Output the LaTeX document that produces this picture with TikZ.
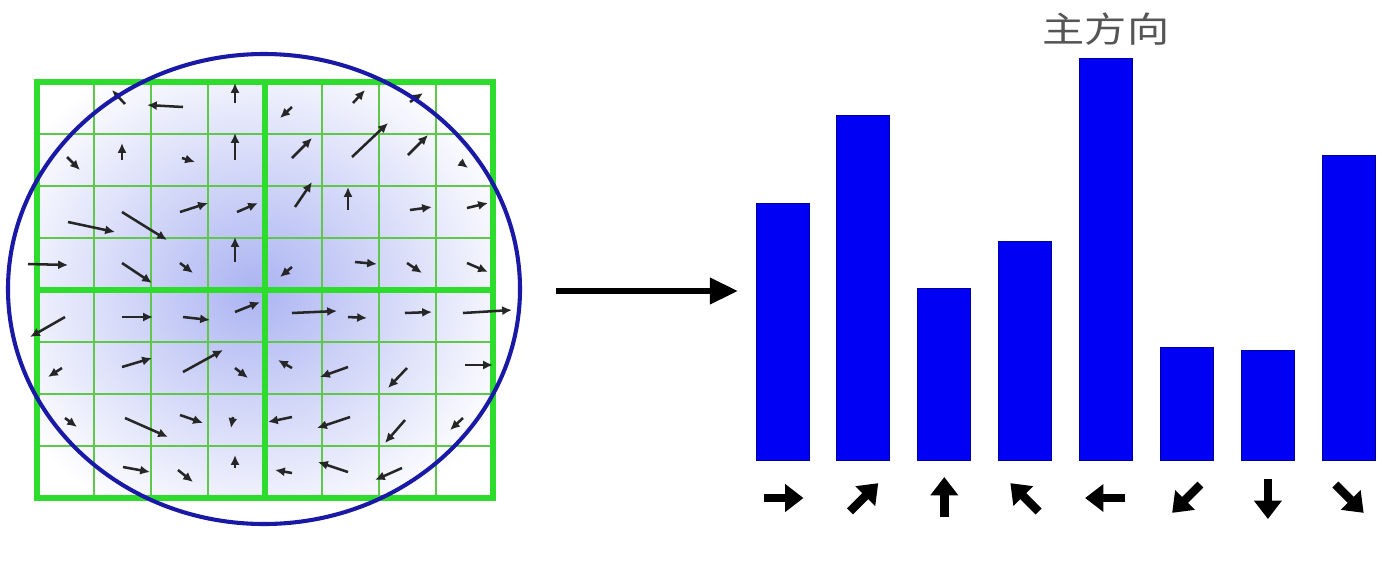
\documentclass[tikz,border=0pt]{standalone}
\usepackage{fontspec}
\newfontfamily\cjk{Noto Sans CJK SC}
\usetikzlibrary{arrows.meta, calc}

\definecolor{gridgreen}{RGB}{45,220,45}
\definecolor{thingreen}{RGB}{95,200,75}
\definecolor{ringblue}{RGB}{25,25,165}
\definecolor{barblue}{RGB}{0,0,245}
\definecolor{blobblue}{RGB}{172,180,242}
\definecolor{titlegray}{RGB}{85,85,85}

\begin{document}
\begin{tikzpicture}[x={(0.025cm,0)}, y={(0,-0.025cm)}]
        \tikzstyle{gradarrow}=[line width=1.8pt, black!85, -{Latex[length=7pt, width=6.5pt]}]
        \tikzstyle{dirarrow}=[line width=6pt, black, -{Triangle[length=13pt, width=19pt]}]
        \tikzstyle{thinline}=[line width=1.3pt, thingreen]
        \tikzstyle{thickline}=[line width=3.6pt, gridgreen]
        \useasboundingbox (0,0) rectangle (1394,562);

        % soft blue blob under the grid
        \begin{scope}
          \clip (37,82) rectangle (493,498);
          \shade[inner color=blobblue, outer color=white] (255,290) ellipse [x radius=275, y radius=255];
        \end{scope}

        % thin grid lines, 8 x 8 cells
        \foreach \i in {1,...,7}
        {
          \draw[thinline] (37+57*\i, 82) -- (37+57*\i, 498);
          \draw[thinline] (37, 82+52*\i) -- (493, 82+52*\i);
        };

        % thick lines round the four quarters
        \draw[thickline] (37,82) rectangle (493,498);
        \draw[thickline] (265,82) -- (265,498);
        \draw[thickline] (37,290) -- (493,290);

        % gradient arrows in the cells
        \foreach \xa/\ya/\xb/\yb in {
          125/104/112/90, 183/107/147/105, 235/103/235/83,
          67/157/80/170, 122/160/122/143, 182/158/195/162, 235/160/235/133,
          68/222/115/232, 122/212/167/240, 180/212/208/203, 237/212/258/203,
          28/264/68/265, 122/263/152/283, 180/263/193/273, 235/262/235/237,
          292/107/280/118, 353/103/365/90, 410/102/423/93,
          292/158/312/138, 352/157/388/123, 408/155/428/135, 460/162/468/168,
          295/207/312/182, 348/210/348/187, 410/210/432/207, 467/208/488/203,
          292/267/280/277, 355/262/377/264, 407/263/422/273, 467/263/488/272,
          65/317/30/337, 122/317/153/317, 183/317/210/320, 235/312/260/302,
          292/313/337/311, 348/317/367/318, 405/313/432/312, 463/313/512/310,
          62/368/48/377, 122/367/152/358, 183/372/223/350, 235/368/248/378,
          292/368/278/360, 348/367/320/377, 407/368/388/388, 465/365/493/365,
          65/418/77/427, 125/418/168/437, 180/415/203/423, 233/417/231/428,
          292/417/268/422, 350/417/317/428, 405/420/385/443, 463/418/450/430,
          123/467/150/472, 178/470/193/482, 235/468/235/455,
          292/473/275/470, 348/472/318/462, 402/468/375/480}
        {
          \draw[gradarrow] (\xa,\ya) -- (\xb,\yb);
        };

        % the circle round the window
        \draw[line width=2.9pt, ringblue] (264,289) ellipse [x radius=256, y radius=235];

        % arrow from the window to the histogram
        \coordinate (winright) at (556,291);
        \coordinate (histleft) at (738,291);
        \draw[line width=4.3pt, -{Triangle[length=20pt, width=18pt]}] (winright) -- (histleft);

        % histogram bars with their directions below
        \foreach \i/\top/\ang in {1/203/0, 2/115/45, 3/288/90, 4/241/135, 5/58/180, 6/347/225, 7/350/270, 8/155/315}
        {
          \pgfmathsetmacro{\xl}{756+80.9*(\i-1)}
          \fill[barblue, draw=blue!60!black, line width=0.6pt] (\xl,\top) rectangle (\xl+53,460);
          \coordinate (dir\i) at (\xl+26.5,498);
          \draw[dirarrow] ($(dir\i)+(-\ang:-19)$) -- ($(dir\i)+(-\ang:21)$);
        };

        % title over the tallest bar
        \node[text=titlegray, font=\cjk\fontsize{25}{28}\selectfont, xscale=1.2, transform shape] (maindir) at (1106,29) {主方向};
\end{tikzpicture}
\end{document}
